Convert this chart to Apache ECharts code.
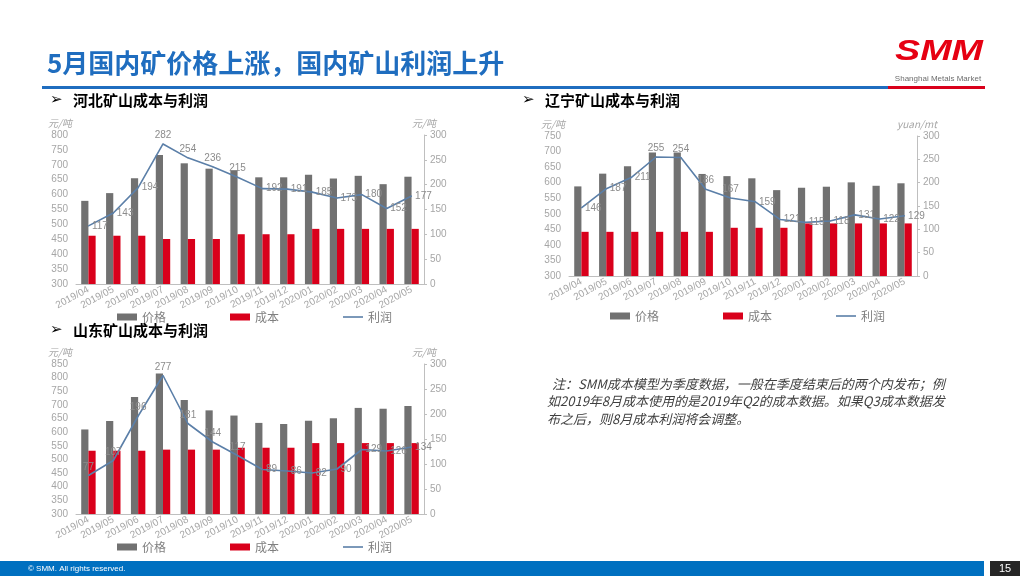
<!DOCTYPE html>
<html><head><meta charset="utf-8">
<script src="https://cdn.jsdelivr.net/npm/echarts@6/dist/echarts.min.js"></script>
<style>html,body{margin:0;padding:0;background:#fff}#c{width:1024px;height:576px}</style>
</head><body><div id="c"></div>
<script>
const months = ['2019/04','2019/05','2019/06','2019/07','2019/08','2019/09','2019/10','2019/11','2019/12','2020/01','2020/02','2020/03','2020/04','2020/05'];
const hebeiPrice = [579,605,655,733,705,687,682,658,658,667,654,663,635,660];
const hebeiCost = [462,462,462,451,451,451,467,467,467,485,485,485,485,485];
const hebeiProfit = [117,143,194,282,254,236,215,192,191,185,173,180,152,177];
const liaoningPrice = [588,629,653,697,697,628,621,614,576,584,587,601,590,598];
const liaoningCost = [442,442,442,442,442,442,455,455,455,469,469,469,469,469];
const liaoningProfit = [146,187,211,255,254,186,167,159,121,115,118,131,122,129];
const shandongPrice = [610,641,729,815,718,680,661,634,630,642,651,689,686,696];
const shandongCost = [532,532,532,536,536,536,543,543,543,560,560,560,560,560];
const shandongProfit = [77,107,196,277,181,144,117,89,86,82,90,129,126,134];
const seriesNames = ['价格','成本','利润'];

// label placement styles (kept apart from the data)
const posA = ['right','right','right','top','top','top','top','right','right','right','right','right','right','right'];
const posB = ['top','top','top','top','top','top','top','right','right','right','right','right','right','right'];

const FONT = '"Liberation Sans","Noto Sans CJK SC",sans-serif';
const CJK = '"Noto Sans CJK SC",sans-serif';
const axisGray = '#a6a6a6';

const option = {
  animation:false,
  textStyle:{fontFamily:FONT},
  grid:[], xAxis:[], yAxis:[], series:[], legend:[], graphic:[]
};

function addChart(i, box, leftMin, leftMax, leftName, rightName, price, cost, profit, pos, legendPos){
  option.grid.push({left:box[0], top:box[1], width:box[2], height:box[3], containLabel:false});
  option.xAxis.push({type:'category', gridIndex:i, data:months,
    axisLine:{lineStyle:{color:'#bfbfbf'}}, axisTick:{show:false},
    axisLabel:{interval:0, rotate:28, fontSize:10, color:axisGray, margin:5, fontFamily:FONT}});
  option.yAxis.push({type:'value', gridIndex:i, min:leftMin, max:leftMax, interval:50,
    name:leftName, nameLocation:'end', nameGap:7,
    nameTextStyle:{align:'right', fontStyle:'italic', color:axisGray, fontSize:10, padding:[0,4,0,0], fontFamily:CJK},
    axisLine:{show:false}, axisTick:{show:false}, splitLine:{show:false},
    axisLabel:{fontSize:10, color:axisGray, margin:8}});
  option.yAxis.push({type:'value', gridIndex:i, position:'right', min:0, max:300, interval:50,
    name:rightName, nameLocation:'end', nameGap:7,
    nameTextStyle:{align:'center', fontStyle:'italic', color:axisGray, fontSize:10, fontFamily:CJK},
    axisLine:{show:true, lineStyle:{color:'#bfbfbf'}}, axisTick:{show:true, length:3, lineStyle:{color:'#bfbfbf'}},
    splitLine:{show:false}, axisLabel:{fontSize:10, color:axisGray, margin:6}});
  const yl = i*2, yr = i*2+1;
  option.series.push({name:'价格', type:'bar', xAxisIndex:i, yAxisIndex:yl, data:price,
    itemStyle:{color:'#717171'}, barGap:'0%', barCategoryGap:'42%'});
  option.series.push({name:'成本', type:'bar', xAxisIndex:i, yAxisIndex:yl, data:cost,
    itemStyle:{color:'#d9001b'}, barGap:'0%', barCategoryGap:'42%'});
  option.series.push({name:'利润', type:'line', xAxisIndex:i, yAxisIndex:yr,
    data:profit.map((v,k)=>({value:v, label:{position:pos[k]}})),
    symbol:'circle', symbolSize:1, itemStyle:{color:'#5b7fa8'},
    lineStyle:{color:'#5b7fa8', width:1.6}, z:3,
    label:{show:true, color:'#8c8c8c', fontSize:10, distance:3}});
  option.legend.push({left:legendPos[0], top:legendPos[1], itemGap:64, itemWidth:20, itemHeight:7,
    textStyle:{color:'#7f7f7f', fontSize:12, fontFamily:CJK},
    data:[{name:'价格',icon:'rect'},{name:'成本',icon:'rect'},{name:'利润',icon:'path://M0,0 L20,0 L20,1.6 L0,1.6 Z'}],
    selectedMode:false});
}

addChart(0,[76,135,348,149],300,800,'元/吨','元/吨',hebeiPrice,hebeiCost,hebeiProfit,posA,[112,306]);
addChart(1,[569,136,348,140],300,750,'元/吨','yuan/mt',liaoningPrice,liaoningCost,liaoningProfit,posA,[605,305]);
addChart(2,[76,364,348,150],300,850,'元/吨','元/吨',shandongPrice,shandongCost,shandongProfit,posB,[112,536]);

const g = option.graphic;
g.push({type:'text', left:47, top:50, style:{text:'5月国内矿价格上涨，国内矿山利润上升', fill:'#1f6dbf', font:'bold 26px '+CJK}});
g.push({type:'rect', shape:{x:42,y:86,width:846,height:3}, style:{fill:'#1f6dbf'}});
g.push({type:'rect', shape:{x:888,y:86,width:97,height:3}, style:{fill:'#d9001b'}});
g.push({type:'text', x:939, y:52, scaleX:1.3, style:{text:'SMM', fill:'#e60012', font:'italic bold 29px "Liberation Sans",sans-serif', align:'center', verticalAlign:'middle'}});
g.push({type:'text', x:938, y:79, style:{text:'Shanghai Metals Market', fill:'#6d6d6d', font:'8px "Liberation Sans Narrow","Liberation Sans",sans-serif', align:'center', verticalAlign:'middle'}});

function header(x,y,t){
  g.push({type:'text', x:x, y:y, style:{text:'➢', fill:'#000', font:'15px "DejaVu Sans",sans-serif', verticalAlign:'middle'}});
  g.push({type:'text', x:x+23, y:y, style:{text:t, fill:'#000', font:'bold 15px '+CJK, verticalAlign:'middle'}});
}
header(50,100,'河北矿山成本与利润');
header(522,100,'辽宁矿山成本与利润');
header(50,330,'山东矿山成本与利润');

const note = ['注：SMM成本模型为季度数据，一般在季度结束后的两个内发布；例','如2019年8月成本使用的是2019年Q2的成本数据。如果Q3成本数据发','布之后，则8月成本利润将会调整。'];
note.forEach((t,k)=>{
  g.push({type:'text', x:k===0?552:547, y:384+k*17.5, style:{text:t, fill:'#404040', font:'italic 13px '+CJK, verticalAlign:'middle'}});
});

g.push({type:'rect', shape:{x:0,y:561,width:984,height:15}, style:{fill:'#0070c0'}});
g.push({type:'text', x:28, y:569, style:{text:'© SMM. All rights reserved.', fill:'#ffffff', font:'8px "Liberation Sans",sans-serif', verticalAlign:'middle'}});
g.push({type:'rect', shape:{x:990,y:561,width:30,height:15}, style:{fill:'#262626'}});
g.push({type:'text', x:1005, y:569, style:{text:'15', fill:'#ffffff', font:'11px "Liberation Sans",sans-serif', align:'center', verticalAlign:'middle'}});

echarts.init(document.getElementById('c')).setOption(option);
</script></body></html>
